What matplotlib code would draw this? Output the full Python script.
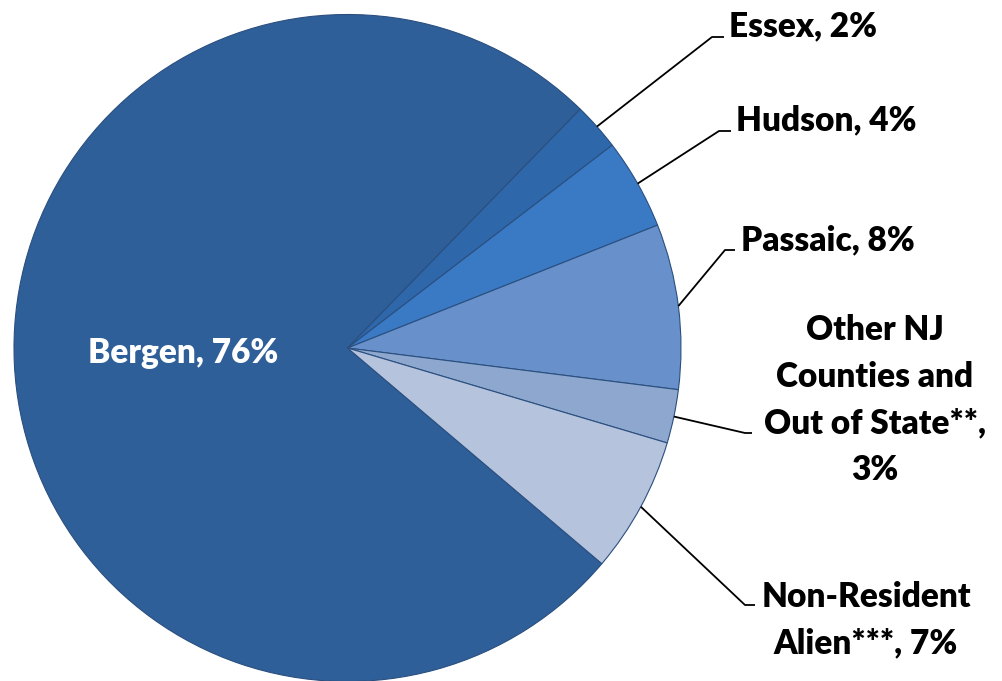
import numpy as np
import matplotlib
matplotlib.use("Agg")
import matplotlib.pyplot as plt

categories = ["Bergen", "Essex", "Hudson", "Passaic",
              "Other NJ Counties and Out of State**", "Non-Resident Alien***"]
values = [76.1, 2.3, 4.4, 8.0, 2.6, 6.6]
labels = ["Bergen, 76%", "Essex, 2%", "Hudson, 4%", "Passaic, 8%",
          "Other NJ\nCounties and\nOut of State**,\n3%", "Non-Resident\nAlien***, 7%"]
colors = ["#2F5F98", "#2E67AA", "#3A7AC5", "#6890CA", "#8EA7CE", "#B5C3DD"]

W, H = 1002, 681
fig = plt.figure(figsize=(W / 100, H / 100), dpi=100)
ax = fig.add_axes([0, 0, 1, 1])

cx, cy, r = 347.5, H - 348, 333.5
wedges, _ = ax.pie(values, colors=colors, startangle=-40.3, counterclock=False,
                   center=(cx, cy), radius=r, frame=True,
                   wedgeprops=dict(edgecolor="#2a4f7f", linewidth=0.8))
ax.set_xlim(0, W)
ax.set_ylim(0, H)
ax.set_aspect("equal")
ax.axis("off")

font = dict(family="Lato", fontweight="heavy", fontsize=24)

# Bergen label inside
ax.text(183, H - 353, labels[0], color="white", ha="center", va="center", **font)

# outside labels: (elbow x, elbow y px, hook end x, text x, text y px, ha)
label_pos = {
    1: (712, 37, 724, 729, 26, "left"),
    2: (719, 131, 731, 736, 120, "left"),
    3: (725, 250, 735, 741, 240, "left"),
    4: (745, 433, 752, 875, 400, "center"),
    5: (745, 605, 755, 866, 620, "center"),
}
for i, (ex, ey, hx, tx, ty, ha) in label_pos.items():
    w = wedges[i]
    mid = np.deg2rad((w.theta1 + w.theta2) / 2)
    sx, sy = cx + r * np.cos(mid), cy + r * np.sin(mid)
    ax.plot([sx, ex, hx], [sy, H - ey, H - ey], color="black", lw=1.3,
            solid_capstyle="butt")
    ax.text(tx, H - ty, labels[i], color="black", ha=ha, va="center",
            multialignment="center", linespacing=1.57, **font)

fig.savefig("out.png", dpi=100)
